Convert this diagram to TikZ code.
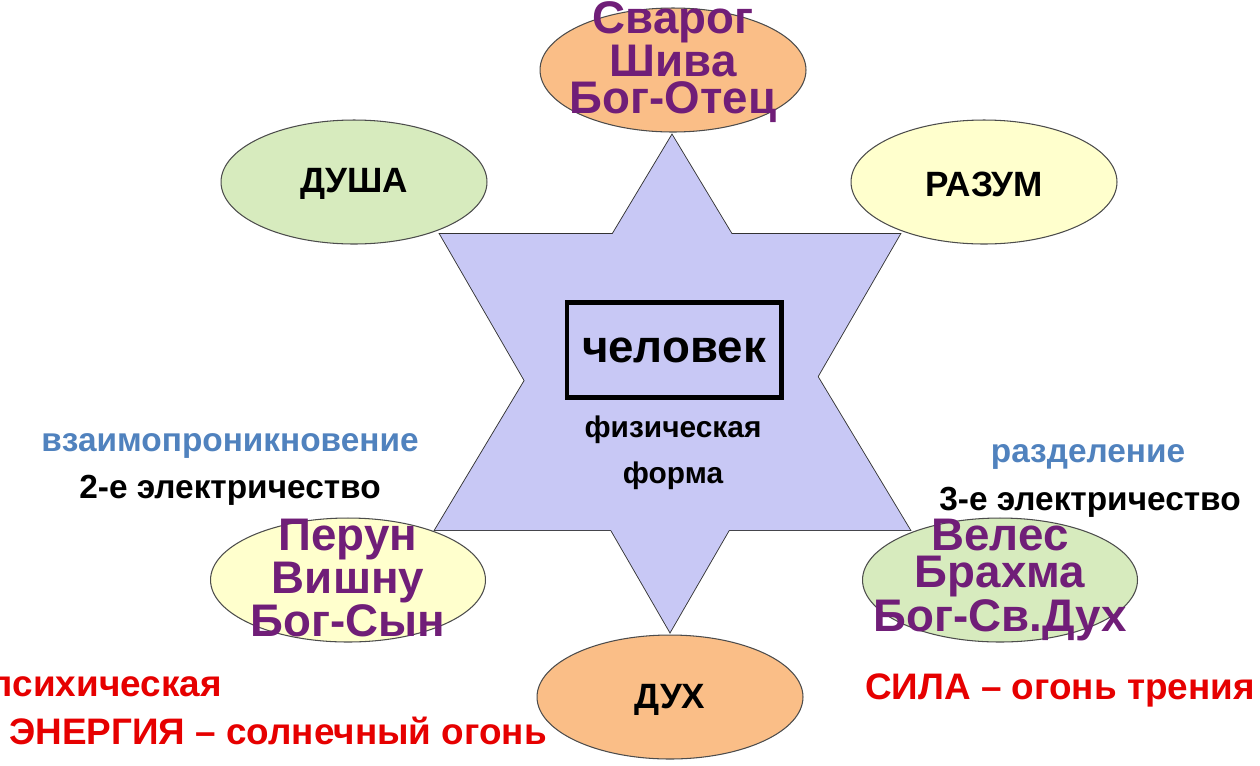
\documentclass[tikz,border=0pt]{standalone}
\usepackage{fontspec}
\setmainfont{Liberation Sans}
\usetikzlibrary{shapes.geometric}
\definecolor{lav}{RGB}{200,200,245}
\definecolor{org}{RGB}{250,190,135}
\definecolor{lgreen}{RGB}{215,235,190}
\definecolor{lyel}{RGB}{255,255,205}
\definecolor{purp}{RGB}{112,30,120}
\definecolor{sblue}{RGB}{80,130,190}
\definecolor{myred}{RGB}{230,0,0}
\begin{document}
\begin{tikzpicture}[x=0.02cm,y=-0.02cm,
  ell/.style={ellipse,draw=black!70,line width=0.6pt,minimum width=5.32cm,minimum height=2.48cm,inner sep=0pt},
  god/.style={text=purp,font=\bfseries\fontsize{26}{21}\selectfont,align=center},
  lab/.style={font=\bfseries\fontsize{20}{22}\selectfont},
  small/.style={font=\bfseries\fontsize{19}{22}\selectfont},
  redt/.style={text=myred,font=\bfseries\fontsize{21}{24}\selectfont}]
\useasboundingbox (0,0) rectangle (1260,765);
\fill[white] (0,0) rectangle (1260,765);
\coordinate (ua) at (672,135); \coordinate (ul) at (435,530); \coordinate (ur) at (910,530);
\coordinate (dl) at (440,234); \coordinate (dr) at (900,234); \coordinate (db) at (670,632);
\draw[black!80,line width=1pt] (ua)--(ul)--(ur)--cycle;
\draw[black!80,line width=1pt] (dl)--(dr)--(db)--cycle;
\fill[lav] (ua)--(ul)--(ur)--cycle;
\fill[lav] (dl)--(dr)--(db)--cycle;
\node[ell,fill=org] (svarog) at (673,70) {};
\node[god] at (673,62) {Сварог\\Шива\\Бог-Отец};
\node[ell,fill=lgreen] (dusha) at (354,182) {};
\node[lab] at (354,184) {ДУША};
\node[ell,fill=lyel] (razum) at (984,182) {};
\node[lab] at (984,184) {РАЗУМ};
\node[ell,fill=lyel,minimum width=5.5cm] (perun) at (348,580) {};
\node[god] at (348,578) {Перун\\Вишну\\Бог-Сын};
\node[ell,fill=lgreen,minimum width=5.5cm] (veles) at (1000,580) {};
\node[god] at (1000,580) {Велес\\Брахма\\Бог-Св.Дух};
\node[ell,fill=org] (duh) at (670,697) {};
\node[lab] at (670,700) {ДУХ};
\node[draw,line width=2.3pt,minimum width=4.3cm,minimum height=1.9cm,font=\bfseries\fontsize{26}{30}\selectfont] (chel) at (674,350) {человек};
\node[font=\bfseries\fontsize{17}{20}\selectfont,align=center] (fiz) at (673,453) {физическая\\[6pt]форма};
\node[small,text=sblue] (vz) at (230,446) {взаимопроникновение};
\node[small] (e2) at (230,490) {2-е электричество};
\node[small,text=sblue] (raz) at (1088,457) {разделение};
\node[small] (e3) at (1090,502) {3-е электричество};
\node[redt] (psi) at (106,687) {психическая};
\node[redt] (en) at (278,731) {ЭНЕРГИЯ – солнечный огонь};
\node[redt] (sila) at (1060,690) {СИЛА – огонь трения};
\end{tikzpicture}
\end{document}
